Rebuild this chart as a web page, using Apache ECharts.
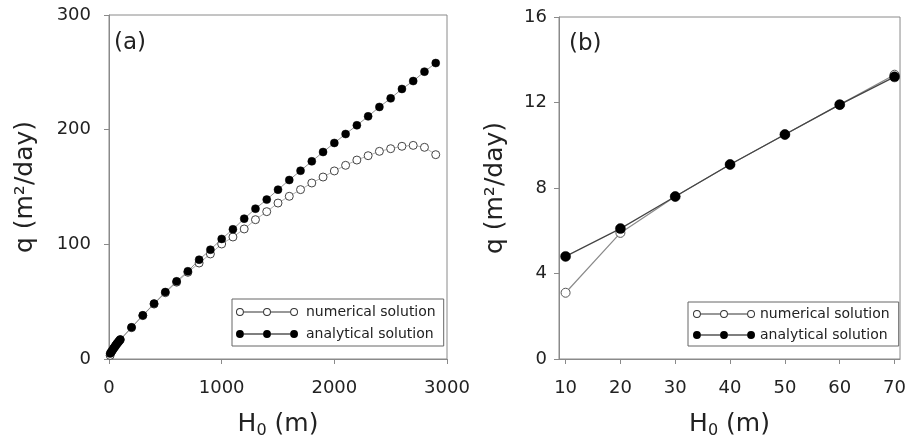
<!DOCTYPE html>
<html><head><meta charset="utf-8">
<script src="https://cdn.jsdelivr.net/npm/echarts@6/dist/echarts.min.js"></script>
<style>html,body{margin:0;padding:0;background:#fff}#c{width:909px;height:446px}</style>
</head><body><div id="c"></div>
<script>
// ---- data ----
const hLeft = [10,20,30,40,50,60,70,80,90,100,200,300,400,500,600,700,800,900,1000,1100,1200,1300,1400,1500,1600,1700,1800,1900,2000,2100,2200,2300,2400,2500,2600,2700,2800,2900];
const numLeft = [3.1,5.9,7.6,9.1,10.5,11.9,13.3,14.4,15.6,16.8,27.3,37.8,47.9,57.8,67.0,75.6,83.7,91.6,100.3,106.4,113.4,121.5,128.5,136.0,141.9,147.7,153.5,158.7,164.0,168.9,173.5,177.3,181.1,183.4,185.5,186.3,184.6,178.2];
const anaLeft = [4.8,6.1,7.6,9.1,10.5,11.9,13.2,14.5,15.8,17.0,27.6,38.1,48.3,58.4,67.7,76.5,86.6,95.3,104.7,113.1,122.4,131.1,139.0,147.7,156.1,164.2,172.4,180.5,188.4,196.2,203.8,211.6,219.8,227.3,235.5,242.4,250.6,258.1];
const hRight = [10,20,30,40,50,60,70];
const numRight = [3.1,5.9,7.6,9.1,10.5,11.9,13.3];
const anaRight = [4.8,6.1,7.6,9.1,10.5,11.9,13.2];
const xTicksRight = [10,20,30,40,50,60,70];
const seriesNames = ['numerical solution','analytical solution'];

const FONT = 'DejaVu Sans';
const zip = (xs, ys) => xs.map((x, i) => [x, ys[i]]);
const plain = v => String(v);

function legendIcon(open) {
  const cs = [4, 31.5, 59];
  let p = '';
  cs.forEach(cx => {
    p += `M${cx-4},4 A4,4 0 1,1 ${cx+4},4 A4,4 0 1,1 ${cx-4},4 Z `;
    if (open) p += `M${cx-3},4 A3,3 0 1,0 ${cx+3},4 A3,3 0 1,0 ${cx-3},4 Z `;
  });
  for (let i = 0; i < 2; i++) {
    const a = cs[i] + 4, b = cs[i+1] - 4;
    p += `M${a},3.5 L${b},3.5 L${b},4.5 L${a},4.5 Z `;
  }
  return 'path://' + p;
}

const axisCommon = {
  axisLine: {show: true, lineStyle: {color: '#8a8a8a', width: 1}},
  axisTick: {show: true, inside: false, length: 5, lineStyle: {color: '#8a8a8a'}},
  splitLine: {show: false},
  axisLabel: {color: '#222', fontSize: 18, fontFamily: FONT, formatter: plain}
};
const yName = 'q (m\u00B2/day)';
const xNameRich = {
  a: {fontSize: 25, fontFamily: FONT, color: '#222'},
  b: {fontSize: 16, fontFamily: FONT, color: '#222', padding: [13, 0, 0, 0]}
};

function mkLegend(left, top, idx) {
  return {
    orient: 'vertical', left: left, top: top,
    borderColor: '#666', borderWidth: 1,
    padding: idx === 0 ? [6, 8, 5, 4] : [5, 9, 4, 5],
    itemWidth: 62, itemHeight: 8, itemGap: idx === 0 ? 8 : 7,
    selectedMode: false,
    textStyle: {fontSize: 14, fontFamily: FONT, color: '#222', padding: [0, 0, 0, idx === 0 ? 3 : 0]},
    data: [
      {name: seriesNames[0], icon: legendIcon(true), itemStyle: {color: '#333', borderWidth: 0}},
      {name: seriesNames[1], icon: legendIcon(false), itemStyle: {color: '#000', borderWidth: 0}}
    ]
  };
}

const option = {
  animation: false,
  backgroundColor: '#fff',
  textStyle: {fontFamily: FONT},
  grid: [
    {left: 109, top: 15, width: 338, height: 344, show: true, borderColor: '#8a8a8a', borderWidth: 1, backgroundColor: 'transparent'},
    {left: 559, top: 17, width: 343, height: 342, show: true, borderColor: '#8a8a8a', borderWidth: 1, backgroundColor: 'transparent'}
  ],
  xAxis: [
    Object.assign({}, axisCommon, {
      type: 'value', gridIndex: 0, min: 0, max: 3000, interval: 1000,
      axisLabel: Object.assign({}, axisCommon.axisLabel, {margin: 20}),
      name: '{a|H}{b|0}{a| (m)}', nameLocation: 'middle', nameGap: 51,
      nameTextStyle: {rich: xNameRich}
    }),
    Object.assign({}, axisCommon, {
      type: 'value', gridIndex: 1, min: 8.8, max: 71,
      axisTick: Object.assign({}, axisCommon.axisTick, {customValues: xTicksRight}),
      axisLabel: Object.assign({}, axisCommon.axisLabel, {margin: 20, customValues: xTicksRight}),
      name: '{a|H}{b|0}{a| (m)}', nameLocation: 'middle', nameGap: 51,
      nameTextStyle: {rich: xNameRich}
    })
  ],
  yAxis: [
    Object.assign({}, axisCommon, {
      type: 'value', gridIndex: 0, min: 0, max: 300, interval: 100,
      axisLabel: Object.assign({}, axisCommon.axisLabel, {margin: 18}),
      name: yName, nameLocation: 'middle', nameGap: 71, nameRotate: 90,
      nameTextStyle: {fontSize: 25, fontFamily: FONT, color: '#222'}
    }),
    Object.assign({}, axisCommon, {
      type: 'value', gridIndex: 1, min: 0, max: 16, interval: 4,
      axisLabel: Object.assign({}, axisCommon.axisLabel, {margin: 12}),
      name: yName, nameLocation: 'middle', nameGap: 51, nameRotate: 90,
      nameTextStyle: {fontSize: 25, fontFamily: FONT, color: '#222'}
    })
  ],
  legend: [mkLegend(232, 299, 0), mkLegend(688, 302, 1)],
  graphic: [
    {type: 'text', left: 114, top: 32, style: {text: '(a)', fontSize: 23, fontFamily: FONT, fill: '#222'}},
    {type: 'text', left: 569, top: 33, style: {text: '(b)', fontSize: 23, fontFamily: FONT, fill: '#222'}}
  ],
  series: [
    {
      name: seriesNames[0], type: 'line', xAxisIndex: 0, yAxisIndex: 0, z: 2,
      data: zip(hLeft, numLeft), symbol: 'circle', symbolSize: 8,
      lineStyle: {color: '#999', width: 0.8},
      itemStyle: {color: '#fff', borderColor: '#444', borderWidth: 1}
    },
    {
      name: seriesNames[1], type: 'line', xAxisIndex: 0, yAxisIndex: 0, z: 3,
      data: zip(hLeft, anaLeft), symbol: 'circle', symbolSize: 8,
      lineStyle: {color: '#777', width: 0.8},
      itemStyle: {color: '#000', borderColor: '#000', borderWidth: 0.5}
    },
    {
      name: seriesNames[0], type: 'line', xAxisIndex: 1, yAxisIndex: 1, z: 2,
      data: zip(hRight, numRight), symbol: 'circle', symbolSize: 9,
      lineStyle: {color: '#8a8a8a', width: 1.2},
      itemStyle: {color: '#fff', borderColor: '#555', borderWidth: 1}
    },
    {
      name: seriesNames[1], type: 'line', xAxisIndex: 1, yAxisIndex: 1, z: 3,
      data: zip(hRight, anaRight), symbol: 'circle', symbolSize: 10,
      lineStyle: {color: '#444', width: 1.2},
      itemStyle: {color: '#000', borderColor: '#000', borderWidth: 0.5}
    }
  ]
};
const chart = echarts.init(document.getElementById('c'));
chart.setOption(option);
</script></body></html>
